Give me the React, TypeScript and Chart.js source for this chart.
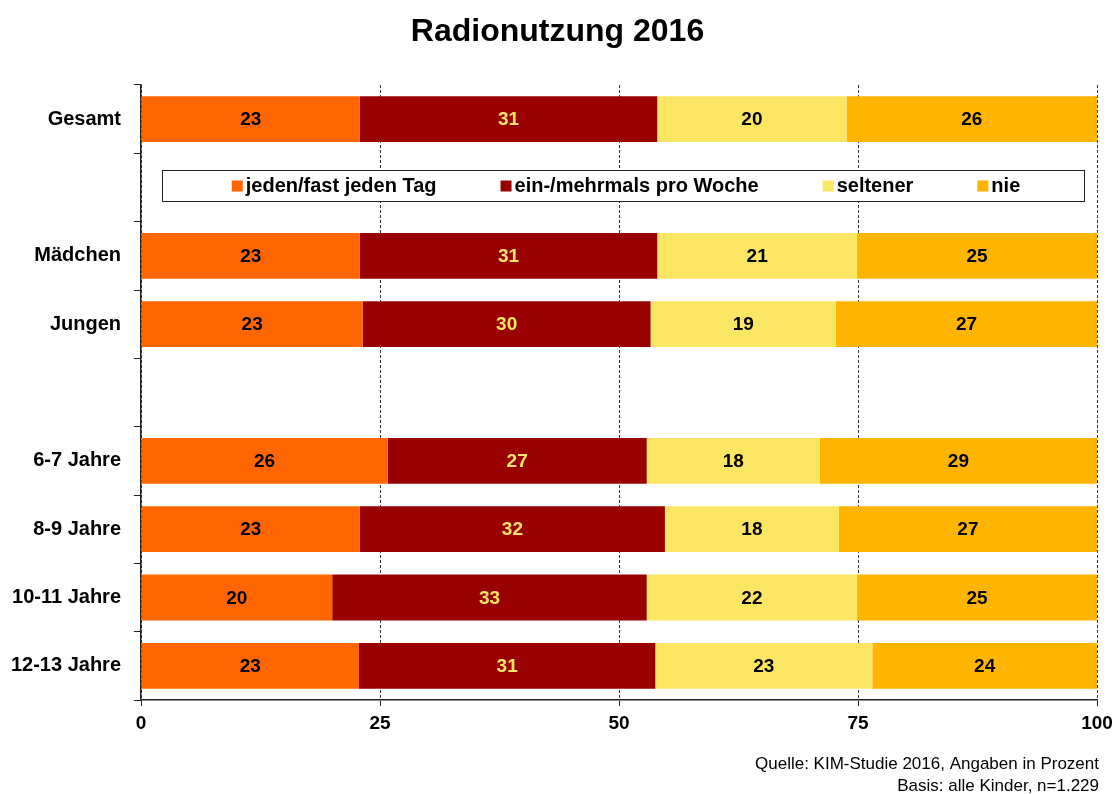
import React, { useEffect, useRef } from "react";
import { Chart, registerables } from "chart.js";

Chart.register(...registerables);

const FONT = '"Liberation Sans", Arial, Helvetica, sans-serif';

const title = "Radionutzung 2016";
const footerLines = ["Quelle: KIM-Studie 2016, Angaben in Prozent", "Basis: alle Kinder, n=1.229"];

const categories = ["Gesamt", "", "Mädchen", "Jungen", "", "6-7 Jahre", "8-9 Jahre", "10-11 Jahre", "12-13 Jahre"];
const seriesNames = ["jeden/fast jeden Tag", "ein-/mehrmals pro Woche", "seltener", "nie"];
const seriesColors = ["#FF6600", "#990000", "#FBE663", "#FFB400"];
const labelColors = ["#000000", "#FFE566", "#000000", "#000000"];

const jedenTag = [22.9, null, 22.9, 23.2, null, 25.8, 22.9, 20.0, 22.8];
const proWoche = [31.1, null, 31.1, 30.1, null, 27.1, 31.9, 32.9, 31.0];
const seltener = [19.8, null, 20.9, 19.4, null, 18.1, 18.2, 22.0, 22.7];
const nie = [26.2, null, 25.1, 27.3, null, 29.0, 27.0, 25.1, 23.5];

const seriesValues = [jedenTag, proWoche, seltener, nie];
const xTicks = [0, 25, 50, 75, 100];

const barLabelsPlugin = {
  id: "barLabels",
  afterDatasetsDraw(chart: any) {
    const ctx = chart.ctx;
    chart.data.datasets.forEach((ds: any, di: number) => {
      const meta = chart.getDatasetMeta(di);
      meta.data.forEach((el: any, i: number) => {
        const v = ds.data[i];
        if (v == null) return;
        const { x, y, base } = el.getProps(["x", "y", "base"], true);
        ctx.save();
        ctx.font = `bold 19px ${FONT}`;
        ctx.fillStyle = labelColors[di];
        ctx.textAlign = "center";
        ctx.textBaseline = "middle";
        ctx.fillText(String(Math.round(v)), (x + base) / 2, y + 1);
        ctx.restore();
      });
    });
  },
};

const decorPlugin = {
  id: "decor",
  afterDraw(chart: any) {
    const { ctx, chartArea, width } = chart;
    const yScale = chart.scales.y;
    ctx.save();
    // title
    ctx.font = `bold 32px ${FONT}`;
    ctx.fillStyle = "#000";
    ctx.textAlign = "center";
    ctx.textBaseline = "alphabetic";
    ctx.fillText(title, width / 2, 41);

    // legend box
    const cy = yScale.getPixelForValue(1) - 2;
    const left = chartArea.left + 21;
    const right = chartArea.right - 13;
    const h = 31;
    const top = Math.round(cy - h / 2) + 0.5;
    ctx.fillStyle = "#fff";
    ctx.fillRect(left, top, right - left, h);
    ctx.strokeStyle = "#222";
    ctx.lineWidth = 1;
    ctx.strokeRect(left + 0.5, top, right - left, h);

    ctx.font = `bold 20px ${FONT}`;
    const sq = 11;
    const gapSq = 3;
    const gapItem = 64;
    const widths = seriesNames.map((n) => ctx.measureText(n).width);
    const total = widths.reduce((a, w) => a + sq + gapSq + w, 0) + gapItem * (seriesNames.length - 1);
    let x = left + (right - left - total) / 2 + 3;
    ctx.textAlign = "left";
    ctx.textBaseline = "middle";
    seriesNames.forEach((n, i) => {
      ctx.fillStyle = seriesColors[i];
      ctx.fillRect(x, cy - 5, sq, sq);
      ctx.fillStyle = "#000";
      ctx.fillText(n, x + sq + gapSq, cy + 1);
      x += sq + gapSq + widths[i] + gapItem;
    });

    // footer
    ctx.font = `17px ${FONT}`;
    ctx.textAlign = "right";
    ctx.textBaseline = "alphabetic";
    ctx.fillStyle = "#000";
    ctx.fillText(footerLines[0], 1099, 769);
    ctx.fillText(footerLines[1], 1099, 791);
    ctx.restore();
  },
};

export default function App() {
  const ref = useRef<HTMLCanvasElement | null>(null);
  useEffect(() => {
    if (!ref.current) return;
    const chart = new Chart(ref.current, {
      type: "bar",
      data: {
        labels: categories,
        datasets: seriesNames.map((name, i) => ({
          label: name,
          data: seriesValues[i],
          backgroundColor: seriesColors[i],
          borderWidth: 0,
          barPercentage: 0.67,
          categoryPercentage: 1,
        })),
      },
      options: {
        indexAxis: "y",
        responsive: false,
        animation: false,
        layout: { padding: { top: 85, right: 18, bottom: 0, left: 0 } },
        plugins: {
          legend: { display: false },
          title: { display: false },
          tooltip: { enabled: false },
        },
        scales: {
          x: {
            stacked: true,
            min: 0,
            max: 100,
            afterBuildTicks: (scale: any) => {
              scale.ticks = xTicks.map((v) => ({ value: v }));
            },
            afterFit: (scale: any) => {
              scale.height = 94;
              scale.paddingLeft = 0;
              scale.paddingRight = 0;
            },
            ticks: {
              font: { family: FONT, size: 19, weight: "bold" },
              color: "#000",
              padding: 6,
              maxRotation: 0,
            },
            grid: {
              color: "#333",
              lineWidth: 1,
              drawTicks: true,
              tickLength: 6,
              tickColor: "#222",
              tickBorderDash: [],
            },
            border: { display: true, color: "#222", width: 1.5, dash: [3, 2] },
          },
          y: {
            stacked: true,
            afterFit: (scale: any) => {
              scale.width = 141;
              scale.paddingTop = 0;
              scale.paddingBottom = 0;
            },
            ticks: {
              font: { family: FONT, size: 20, weight: "bold" },
              color: "#000",
              padding: 13,
            },
            grid: {
              display: true,
              drawOnChartArea: false,
              drawTicks: true,
              tickLength: 7,
              tickColor: "#222",
              offset: true,
            },
            border: { display: true, color: "#222", width: 1.5 },
          },
        },
      },
      plugins: [barLabelsPlugin, decorPlugin],
    } as any);
    return () => chart.destroy();
  }, []);
  return (
    <div style={{ position: "absolute", left: 0, top: 0, width: 1115, height: 794, background: "#fff" }}>
      <canvas ref={ref} width={1115} height={794} style={{ display: "block" }} />
    </div>
  );
}
